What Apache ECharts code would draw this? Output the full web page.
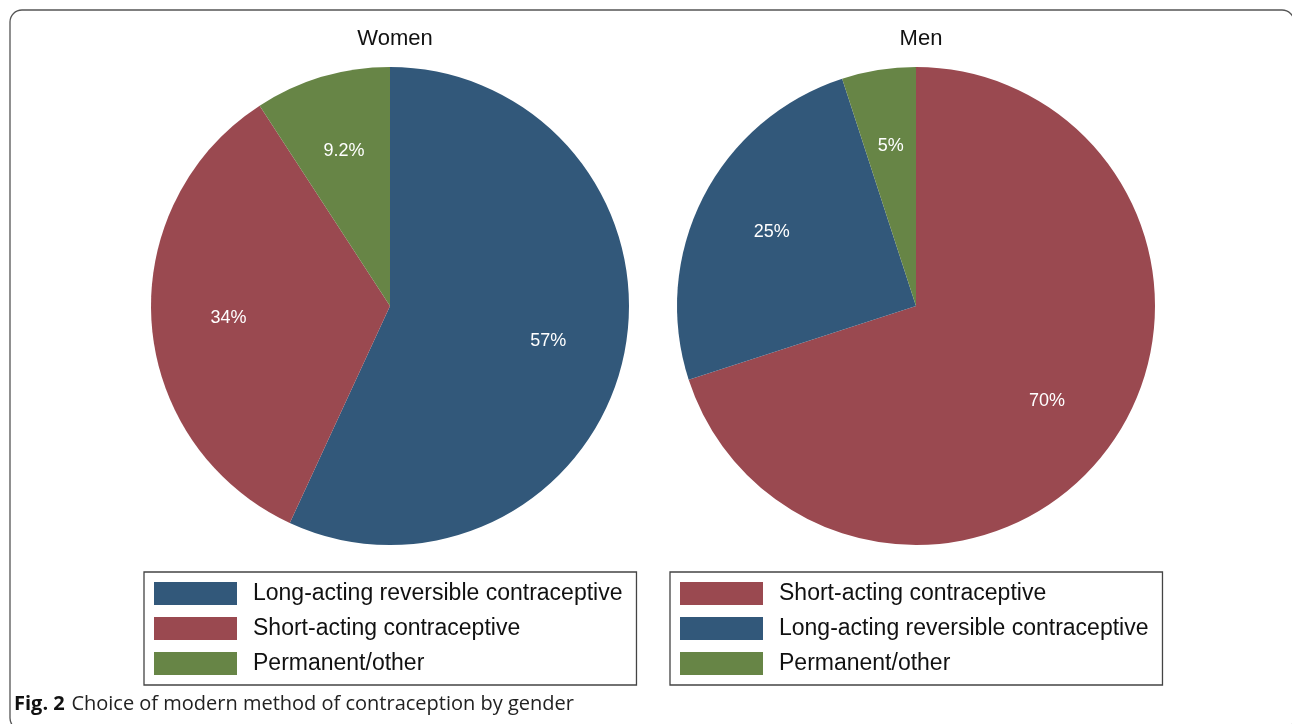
<!DOCTYPE html>
<html>
<head>
<meta charset="utf-8">
<script src="https://cdn.jsdelivr.net/npm/echarts@6/dist/echarts.min.js"></script>
<style>
html,body{margin:0;padding:0;background:#fff;}
#chart{width:1292px;height:724px;}
</style>
</head>
<body>
<div id="chart"></div>
<script>
// Data
var womenCategories = ['Long-acting reversible contraceptive', 'Short-acting contraceptive', 'Permanent/other'];
var womenValues = [57, 34, 9.2];
var menCategories = ['Short-acting contraceptive', 'Long-acting reversible contraceptive', 'Permanent/other'];
var menValues = [70, 25, 5];
var titles = ['Women', 'Men'];
var caption = 'Choice of modern method of contraception by gender';

var colorMap = {
  'Long-acting reversible contraceptive': '#32587a',
  'Short-acting contraceptive': '#9a4950',
  'Permanent/other': '#678546'
};

function pieData(cats, vals) {
  return cats.map(function (c, i) { return { name: c, value: vals[i], itemStyle: { color: colorMap[c] } }; });
}
function labelData(cats, vals) {
  return cats.map(function (c, i) { return { name: c, value: vals[i] }; });
}

var R = 239;
var centers = [[390, 306], [916, 306]];
var sets = [[womenCategories, womenValues], [menCategories, menValues]];
var series = [];
sets.forEach(function (s, k) {
  series.push({
    type: 'pie', name: titles[k], center: centers[k], radius: [0, R],
    startAngle: 90, clockwise: true, silent: true, animation: false,
    label: { show: false }, labelLine: { show: false },
    itemStyle: { borderWidth: 0 },
    data: pieData(s[0], s[1])
  });
});
sets.forEach(function (s, k) {
  series.push({
    type: 'pie', name: titles[k] + ' labels', center: centers[k], radius: [R * 0.33, R],
    startAngle: 90, clockwise: true, silent: true, animation: false,
    itemStyle: { color: 'rgba(0,0,0,0)', borderWidth: 0 },
    label: {
      show: true, position: 'inside', color: '#ffffff',
      fontFamily: 'Liberation Sans, Arial, sans-serif', fontSize: 18,
      formatter: function (p) { return p.value + '%'; }
    },
    labelLine: { show: false },
    emphasis: { disabled: true },
    data: labelData(s[0], s[1])
  });
});

var legendCommon = {
  orient: 'vertical', top: 572, itemWidth: 83, itemHeight: 23, itemGap: 12,
  icon: 'rect', borderColor: '#444', borderWidth: 1.3,
  padding: [10, 14, 10, 10], selectedMode: false,
  textStyle: { fontFamily: 'Liberation Sans, Arial, sans-serif', fontSize: 23, color: '#111', padding: [0, 0, 0, 11] }
};

var option = {
  backgroundColor: '#ffffff',
  animation: false,
  title: [
    { text: titles[0], left: 390, top: 34, textAlign: 'center', textVerticalAlign: 'middle',
      textStyle: { fontFamily: 'Liberation Sans, Arial, sans-serif', fontSize: 22, fontWeight: 'normal', color: '#111' } },
    { text: titles[1], left: 916, top: 34, textAlign: 'center', textVerticalAlign: 'middle',
      textStyle: { fontFamily: 'Liberation Sans, Arial, sans-serif', fontSize: 22, fontWeight: 'normal', color: '#111' } }
  ],
  legend: [
    Object.assign({}, legendCommon, { left: 144, data: womenCategories }),
    Object.assign({}, legendCommon, { left: 670, data: menCategories })
  ],
  graphic: [
    { type: 'rect', shape: { x: 10, y: 10, width: 1284, height: 720, r: 12 },
      style: { fill: 'none', stroke: '#555', lineWidth: 1.3 }, silent: true },
    { type: 'text', left: 14, top: 694,
      style: {
        text: '{b|Fig. 2}  {n|' + caption + '}',
        rich: {
          b: { fontFamily: 'Open Sans, sans-serif', fontWeight: 'bold', fontSize: 20, fill: '#111' },
          n: { fontFamily: 'Open Sans, sans-serif', fontSize: 20, fill: '#222' }
        }
      }
    }
  ],
  series: series
};

var chart = echarts.init(document.getElementById('chart'), null, { renderer: 'canvas' });
chart.setOption(option);
</script>
</body>
</html>
